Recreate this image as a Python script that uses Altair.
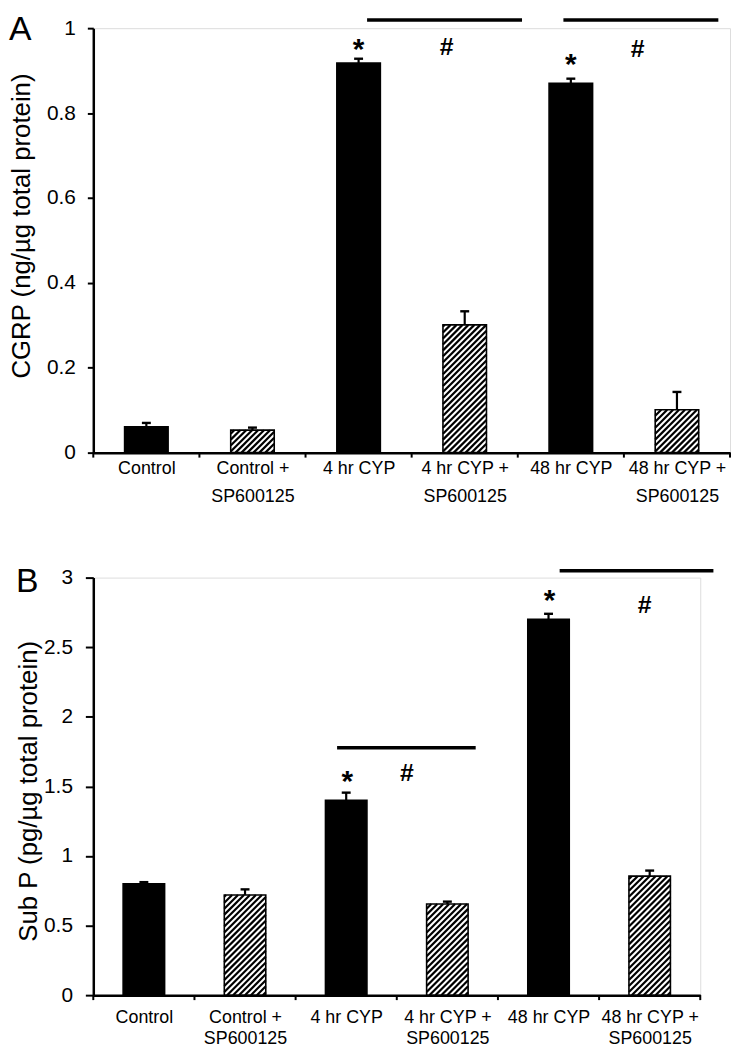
import altair as alt
import pandas as pd

# ---------------- data ----------------
categories = ["Control", "Control + SP600125", "4 hr CYP", "4 hr CYP + SP600125",
              "48 hr CYP", "48 hr CYP + SP600125"]
label_lines = [["Control"], ["Control  +", "SP600125"], ["4 hr CYP"],
               ["4 hr CYP +", "SP600125"], ["48 hr CYP"], ["48 hr CYP +", "SP600125"]]
with_sp600125 = [False, True, False, True, False, True]

cgrp_mean = [0.061, 0.053, 0.918, 0.301, 0.870, 0.101]
cgrp_sem = [0.009, 0.006, 0.010, 0.032, 0.011, 0.042]
subp_mean = [0.80, 0.72, 1.40, 0.655, 2.70, 0.855]
subp_sem = [0.012, 0.040, 0.055, 0.017, 0.040, 0.040]

# significance marks (x in category units: 0 = left edge of first group)
cgrp_line_x = [2.58, 4.43]
cgrp_line_x2 = [4.04, 5.89]
cgrp_line_y = [1.019, 1.019]
cgrp_star_x = [2.5, 4.5]
cgrp_star_y = [0.97, 0.935]
cgrp_hash_x = [3.33, 5.13]
cgrp_hash_y = [0.958, 0.953]

subp_line_x = [2.41, 4.61]
subp_line_x2 = [3.78, 6.13]
subp_line_y = [1.777, 3.05]
subp_star_x = [2.51, 4.51]
subp_star_y = [1.594, 2.894]
subp_hash_x = [3.10, 5.45]
subp_hash_y = [1.606, 2.81]

FONT = "Liberation Sans"
N = len(categories)
BAR_HALF = 0.205


def label_expr():
    arrs = ["[" + ",".join("'" + s + "'" for s in lines) + "]" for lines in label_lines]
    expr = ""
    for i, a in enumerate(arrs[:-1]):
        expr += f"datum.value < {i + 1} ? {a} : "
    return expr + arrs[-1]


def hatch_frame(means, W, H, ymax, pitch=6.0, slope=1.0):
    px_x = W / N
    px_y = H / ymax
    rows = []
    for i, (m, h) in enumerate(zip(means, with_sp600125)):
        if not h:
            continue
        left = i + 0.5 - BAR_HALF
        w = 2 * BAR_HALF * px_x
        hh = m * px_y
        c = -slope * w + pitch / 2
        while c < hh:
            u0 = max(0.0, -c / slope)
            u1 = min(w, (hh - c) / slope)
            if u1 > u0:
                rows.append({"x": left + u0 / px_x, "x2": left + u1 / px_x,
                             "y": (slope * u0 + c) / px_y, "y2": (slope * u1 + c) / px_y})
            c += pitch
    return pd.DataFrame(rows)


def panel(means, sems, ymax, yticks, ytitle, letter, W, H, cfg, ann):
    df = pd.DataFrame({
        "idx": list(range(N)), "cat": categories, "mean": means, "sem": sems,
        "treated": with_sp600125,
    })
    df["left"] = df["idx"] + 0.5 - BAR_HALF
    df["right"] = df["idx"] + 0.5 + BAR_HALF
    df["center"] = df["idx"] + 0.5
    df["top"] = df["mean"] + df["sem"]
    df["zero"] = 0.0
    df["fill"] = df["treated"].map({True: "white", False: "black"})

    xs = alt.Scale(domain=[0, N], nice=False, zero=False)
    ys = alt.Scale(domain=[0, ymax], nice=False)

    xaxis = alt.Axis(values=[i + 0.5 for i in range(N)], ticks=False, grid=False,
                     labelExpr=label_expr(), labelFont=FONT, labelFontSize=18,
                     labelColor="black", labelLineHeight=cfg["lh"],
                     labelPadding=cfg["xpad"], labelAngle=0, labelBaseline="top",
                     labelFlush=False, labelOverlap=False,
                     domainColor="black", domainWidth=2.5, title=None)
    yaxis = alt.Axis(values=yticks, format="~g", grid=False, labelFont=FONT,
                     labelFontSize=cfg["yfs"], labelColor="black",
                     labelPadding=cfg["ypad"], tickSize=cfg["tick"], tickWidth=2,
                     tickColor="black", domainColor="black", domainWidth=2.5,
                     labelFlush=False, labelOverlap=False,
                     title=ytitle, titleFont=FONT, titleFontSize=26,
                     titleFontWeight="normal", titleColor="black", titleAngle=270,
                     titleBaseline="top", titleAlign="center",
                     titleX=cfg["tx"], titleY=cfg["ty"])

    def X(field):
        return alt.X(field, scale=xs, axis=xaxis)

    def Y(field):
        return alt.Y(field, scale=ys, axis=yaxis)

    bars = alt.Chart(df).mark_rect(stroke="black", strokeWidth=1.6).encode(
        x=X("left:Q"), x2="right:Q",
        y=Y("mean:Q"), y2="zero:Q",
        fill=alt.Fill("fill:N", scale=None),
    )

    hatch = alt.Chart(hatch_frame(means, W, H, ymax)).mark_rule(
        color="black", strokeWidth=2.2, strokeCap="butt").encode(
        x=X("x:Q"), x2="x2:Q", y=Y("y:Q"), y2="y2:Q",
    )

    err = alt.Chart(df).mark_rule(color="black", strokeWidth=2.2).encode(
        x=X("center:Q"), y=Y("mean:Q"), y2="top:Q",
    )
    caps = alt.Chart(df).mark_tick(orient="horizontal", size=9, thickness=2.4,
                                   color="black", opacity=1).encode(
        x=X("center:Q"), y=Y("top:Q"),
    )

    bticks = alt.Chart(pd.DataFrame({"b": list(range(N + 1))})).mark_rule(
        color="black", strokeWidth=2).encode(
        x=X("b:Q"), y=alt.value(H), y2=alt.value(H + 5),
    )

    lines = alt.Chart(pd.DataFrame({"x": ann["lx"], "x2": ann["lx2"], "y": ann["ly"]})).mark_rule(
        color="black", strokeWidth=3.5).encode(
        x=X("x:Q"), x2="x2:Q", y=Y("y:Q"),
    )
    stars = alt.Chart(pd.DataFrame({"x": ann["sx"], "y": ann["sy"], "t": ["*"] * len(ann["sx"])})).mark_text(
        font=FONT, fontSize=30, fontWeight="bold", color="black", baseline="middle", dy=9).encode(
        x=X("x:Q"), y=Y("y:Q"), text="t:N",
    )
    hashes = alt.Chart(pd.DataFrame({"x": ann["hx"], "y": ann["hy"], "t": ["#"] * len(ann["hx"])})).mark_text(
        font=FONT, fontSize=25, fontWeight="bold", color="black", baseline="middle", dy=1).encode(
        x=X("x:Q"), y=Y("y:Q"), text="t:N",
    )
    tag = alt.Chart(pd.DataFrame({"t": [letter]})).mark_text(
        font=FONT, fontSize=34, color="black", align="left", baseline="alphabetic").encode(
        x=alt.value(cfg["lx"]), y=alt.value(cfg["ly"]), text="t:N",
    )

    return alt.layer(bars, hatch, err, caps, bticks, lines, stars, hashes, tag).properties(
        width=W, height=H)


WA, HA = 642, 428
WB, HB = 612, 421

panel_a = panel(
    cgrp_mean, cgrp_sem, 1.0, [0, 0.2, 0.4, 0.6, 0.8, 1.0],
    "CGRP (ng/µg total protein)", "A", WA, HA,
    {"lh": 28, "xpad": 7, "yfs": 21, "ypad": 12, "tick": 6, "tx": -85, "ty": 199,
     "lx": -85, "ly": 12},
    {"lx": cgrp_line_x, "lx2": cgrp_line_x2, "ly": cgrp_line_y,
     "sx": cgrp_star_x, "sy": cgrp_star_y, "hx": cgrp_hash_x, "hy": cgrp_hash_y},
)

panel_b = panel(
    subp_mean, subp_sem, 3.0, [0, 0.5, 1, 1.5, 2, 2.5, 3],
    "Sub P (pg/µg total protein)", "B", WB, HB,
    {"lh": 21, "xpad": 14, "yfs": 21, "ypad": 13, "tick": 8, "tx": -78, "ty": 215,
     "lx": -78, "ly": 15},
    {"lx": subp_line_x, "lx2": subp_line_x2, "ly": subp_line_y,
     "sx": subp_star_x, "sy": subp_star_y, "hx": subp_hash_x, "hy": subp_hash_y},
)

chart = alt.vconcat(panel_a, panel_b, spacing=59).properties(
    padding=0
).configure_view(strokeWidth=0, stroke="transparent").configure(font=FONT)

chart.save("out.html", embed_options={"renderer": "svg", "actions": False})
